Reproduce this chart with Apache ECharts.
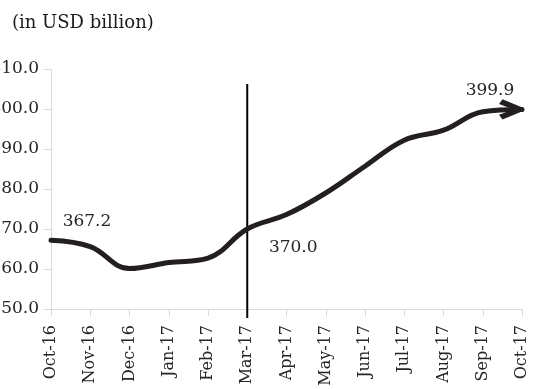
<!DOCTYPE html>
<html>
<head>
<meta charset="utf-8">
<script src="https://cdn.jsdelivr.net/npm/echarts@6/dist/echarts.min.js"></script>
<style>
  html, body { margin: 0; padding: 0; background: #fff; }
  #chart { width: 544px; height: 389px; }
</style>
</head>
<body>
<div id="chart"></div>
<script>
// Monthly values, USD billion
const months = ['Oct-16', 'Nov-16', 'Dec-16', 'Jan-17', 'Feb-17', 'Mar-17', 'Apr-17',
                'May-17', 'Jun-17', 'Jul-17', 'Aug-17', 'Sep-17', 'Oct-17'];
const values = [367.2, 365.6, 360.1, 361.6, 362.7, 370.0, 373.6,
                379.0, 385.7, 392.2, 394.7, 399.3, 399.9];
const yTicks = { min: 350, max: 410, step: 10 };
// Vertical divider at the reference month (value extent of the rule)
const markerMonth = 'Mar-17';
const markerSpan = [406.25, 347.75];
const labelledMonths = ['Oct-16', 'Mar-17', 'Oct-17'];

const FONT = 'DejaVu Serif';
const INK = '#231f20';
const AXIS_GREY = '#d9d9d9';

// Open chevron used as the arrow head at the end of the line
const ARROW = 'path://M3.5,0 L24,9.2 L24,12.8 L3.5,22 L0,16.8 L14.5,11 L0,5.2 Z';

// Pixel shift of each value label from its symbol centre
const labelShift = {
  'Oct-16': [36, -19],
  'Mar-17': [46, 19],
  'Oct-17': [-21, -19]
};

const seriesData = values.map((v, i) => {
  const m = months[i];
  const item = { value: v };
  if (labelledMonths.includes(m)) {
    item.label = {
      show: true,
      position: 'inside',
      formatter: v.toFixed(1),
      fontFamily: FONT,
      fontSize: 17,
      color: '#262626'
    };
  }
  if (i === values.length - 1) {
    item.symbol = ARROW;
    item.symbolSize = [24, 22];
    item.symbolOffset = [-11, 0];
    item.symbolKeepAspect = true;
    item.itemStyle = { color: INK, borderWidth: 0, opacity: 1 };
  }
  return item;
});

const chart = echarts.init(document.getElementById('chart'), null, { renderer: 'canvas' });
chart.setOption({
  animation: false,
  backgroundColor: '#fff',
  title: {
    text: '(in USD billion)',
    left: 12,
    top: 14,
    padding: 0,
    textStyle: { fontFamily: FONT, fontSize: 18, fontWeight: 'normal', color: '#1a1a1a' }
  },
  grid: { left: 51, right: 22, top: 69, bottom: 80, containLabel: false, outerBoundsMode: 'none' },
  xAxis: {
    type: 'category',
    data: months,
    boundaryGap: false,
    axisLine: { lineStyle: { color: AXIS_GREY, width: 1 } },
    axisTick: { show: true, length: 7, lineStyle: { color: AXIS_GREY } },
    axisLabel: {
      rotate: 90,
      margin: 16,
      fontFamily: FONT,
      fontSize: 16,
      color: '#262626',
      interval: 0
    },
    splitLine: { show: false }
  },
  yAxis: {
    type: 'value',
    min: yTicks.min,
    max: yTicks.max,
    interval: yTicks.step,
    axisLine: { show: true, lineStyle: { color: AXIS_GREY, width: 1 } },
    axisTick: { show: true, length: 7, lineStyle: { color: AXIS_GREY } },
    axisLabel: {
      margin: 12,
      fontFamily: FONT,
      fontSize: 17,
      color: '#262626',
      formatter: v => v.toFixed(1)
    },
    splitLine: { show: false }
  },
  series: [{
    type: 'custom',
    silent: true,
    clip: false,
    z: 1,
    data: [[markerMonth, markerSpan[0], markerSpan[1]]],
    encode: { x: 0, y: [1, 2] },
    renderItem: (params, api) => {
      const top = api.coord([api.value(0), api.value(1)]);
      const bottom = api.coord([api.value(0), api.value(2)]);
      return {
        type: 'line',
        shape: { x1: top[0], y1: top[1], x2: bottom[0], y2: bottom[1] },
        style: { stroke: '#000', lineWidth: 2 }
      };
    }
  }, {
    type: 'line',
    z: 3,
    data: seriesData,
    smooth: 0.4,
    symbol: 'circle',
    symbolSize: 0,
    showSymbol: true,
    clip: false,
    lineStyle: { color: INK, width: 5, cap: 'round', join: 'round' },
    itemStyle: { color: INK },
    labelLayout: (params) => {
      const shift = labelShift[months[params.dataIndex]] || [0, 0];
      return { dx: shift[0], dy: shift[1], hideOverlap: false };
    }
  }]
});
</script>
</body>
</html>
